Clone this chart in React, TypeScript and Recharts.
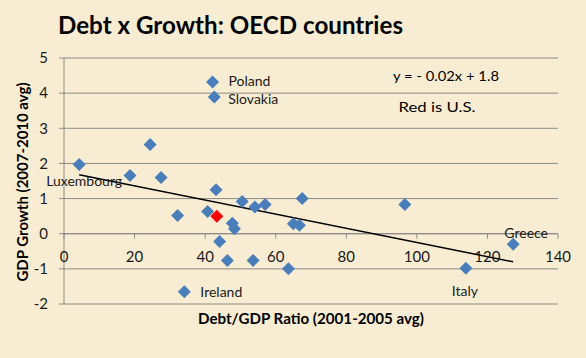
import React from "react";
import {
  ScatterChart,
  Scatter,
  XAxis,
  YAxis,
  CartesianGrid,
  ReferenceLine,
  ReferenceDot,
  Customized,
} from "recharts";

// Debt/GDP ratio (x) vs GDP growth (y)
const countries: { name: string; x: number; y: number }[] = [
  { name: "Luxembourg", x: 4.3, y: 1.97 },
  { name: "", x: 18.7, y: 1.66 },
  { name: "", x: 24.4, y: 2.54 },
  { name: "", x: 27.5, y: 1.6 },
  { name: "", x: 32.2, y: 0.52 },
  { name: "Ireland", x: 34.1, y: -1.65 },
  { name: "", x: 40.7, y: 0.63 },
  { name: "", x: 43.1, y: 1.25 },
  { name: "", x: 44.1, y: -0.22 },
  { name: "Poland", x: 42.1, y: 4.32 },
  { name: "Slovakia", x: 42.6, y: 3.89 },
  { name: "", x: 46.3, y: -0.76 },
  { name: "", x: 47.7, y: 0.3 },
  { name: "", x: 48.3, y: 0.14 },
  { name: "", x: 50.5, y: 0.92 },
  { name: "", x: 53.6, y: -0.76 },
  { name: "", x: 54.1, y: 0.76 },
  { name: "", x: 57.0, y: 0.83 },
  { name: "", x: 63.6, y: -1.0 },
  { name: "", x: 65.0, y: 0.28 },
  { name: "", x: 66.7, y: 0.24 },
  { name: "", x: 67.5, y: 1.0 },
  { name: "", x: 96.6, y: 0.83 },
  { name: "Italy", x: 113.9, y: -0.98 },
  { name: "Greece", x: 127.3, y: -0.3 },
];
const usa = [{ name: "U.S.", x: 43.3, y: 0.5 }];
const trendStart = { x: 4.3, y: 1.68 };
const trendEnd = { x: 127.3, y: -0.8 };
const xTicks = [0, 20, 40, 60, 80, 100, 120, 140];
const yTicks = [-2, -1, 0, 1, 2, 3, 4, 5];

const FONT = "Lato, 'Open Sans', sans-serif";
const GRID = "#8a8a8a";
const BLUE = "#4a7ebb";

// label placement relative to marker centre
const labelPlacement: Record<string, { dx: number; dy: number; anchor: string }> = {
  Luxembourg: { dx: 5, dy: 16, anchor: "middle" },
  Ireland: { dx: 16, dy: 0, anchor: "start" },
  Poland: { dx: 16, dy: -1.5, anchor: "start" },
  Slovakia: { dx: 14, dy: 1.5, anchor: "start" },
  Italy: { dx: -1, dy: 22, anchor: "middle" },
  Greece: { dx: 13, dy: -12, anchor: "middle" },
};

const Diamond = (color: string) => (props: any) => {
  const { cx, cy, payload } = props;
  if (cx == null || cy == null) return null;
  const r = 6.5;
  const name = payload?.name;
  const p = name ? labelPlacement[name] : undefined;
  return (
    <g>
      <polygon
        points={`${cx},${cy - r} ${cx + r},${cy} ${cx},${cy + r} ${cx - r},${cy}`}
        fill={color}
      />
      {p && (
        <text
          x={cx + p.dx}
          y={cy + p.dy}
          textAnchor={p.anchor as any}
          dominantBaseline="central"
          fontFamily={FONT}
          fontSize={14}
          fill="#1a1a1a"
        >
          {name}
        </text>
      )}
    </g>
  );
};

const XTick = (value: number) => (props: any) => {
  const { cx, cy } = props;
  if (cx == null || cy == null) return null;
  return (
    <g>
      <line x1={cx} y1={cy} x2={cx} y2={cy + 5} stroke={GRID} strokeWidth={1} />
      <text
        x={cx}
        y={cy + 22}
        textAnchor="middle"
        dominantBaseline="central"
        fontFamily={FONT}
        fontSize={15}
        fill="#1a1a1a"
      >
        {value}
      </text>
    </g>
  );
};

const Texts = () => (
  <g fontFamily={FONT} fill="#000">
    <text
      x={58}
      y={34}
      fontSize={24}
      fontWeight={700}
      textLength={345}
      lengthAdjust="spacingAndGlyphs"
    >
      Debt x Growth: OECD countries
    </text>
    <text
      x={311}
      y={318}
      textAnchor="middle"
      dominantBaseline="central"
      fontSize={14.5}
      fontWeight={700}
      textLength={226}
      lengthAdjust="spacingAndGlyphs"
    >
      Debt/GDP Ratio (2001-2005 avg)
    </text>
    <text
      x={22}
      y={182}
      textAnchor="middle"
      dominantBaseline="central"
      fontSize={14.5}
      fontWeight={700}
      textLength={199}
      lengthAdjust="spacingAndGlyphs"
      transform="rotate(-90 22 182)"
    >
      GDP Growth (2007-2010 avg)
    </text>
    <text x={446} y={75} textAnchor="middle" dominantBaseline="central" fontSize={14} textLength={106} lengthAdjust="spacingAndGlyphs">
      y = - 0.02x + 1.8
    </text>
    <text x={437} y={106} textAnchor="middle" dominantBaseline="central" fontSize={14} textLength={77} lengthAdjust="spacingAndGlyphs">
      Red is U.S.
    </text>
  </g>
);

export default function App() {
  return (
    <div
      style={{
        position: "fixed",
        left: 0,
        top: 0,
        width: 586,
        height: 358,
        background: "#f8edd3",
      }}
    >
      <ScatterChart
        width={586}
        height={358}
        margin={{ top: 58, right: 28, bottom: 54, left: 0 }}
      >
        <CartesianGrid vertical={false} stroke={GRID} strokeWidth={1} />
        <XAxis
          type="number"
          dataKey="x"
          domain={[0, 140]}
          ticks={xTicks}
          hide
        />
        <YAxis
          type="number"
          dataKey="y"
          domain={[-2, 5]}
          ticks={yTicks}
          width={64}
          axisLine={{ stroke: GRID }}
          tickLine={{ stroke: GRID }}
          tickSize={5}
          tickMargin={11}
          tick={{ fontFamily: FONT, fontSize: 15, fill: "#1a1a1a" }}
          interval={0}
        />
        <ReferenceLine y={0} stroke={GRID} strokeWidth={1} />
        {xTicks.map((t) => (
          <ReferenceDot
            key={t}
            x={t}
            y={0}
            r={0}
            ifOverflow="visible"
            shape={XTick(t)}
          />
        ))}
        <ReferenceLine
          segment={[trendStart, trendEnd]}
          stroke="#000"
          strokeWidth={1.5}
          ifOverflow="visible"
        />
        <Scatter
          data={countries}
          shape={Diamond(BLUE)}
          isAnimationActive={false}
        />
        <Scatter data={usa} shape={Diamond("#ff0000")} isAnimationActive={false} />
        <Customized component={Texts} />
      </ScatterChart>
    </div>
  );
}
